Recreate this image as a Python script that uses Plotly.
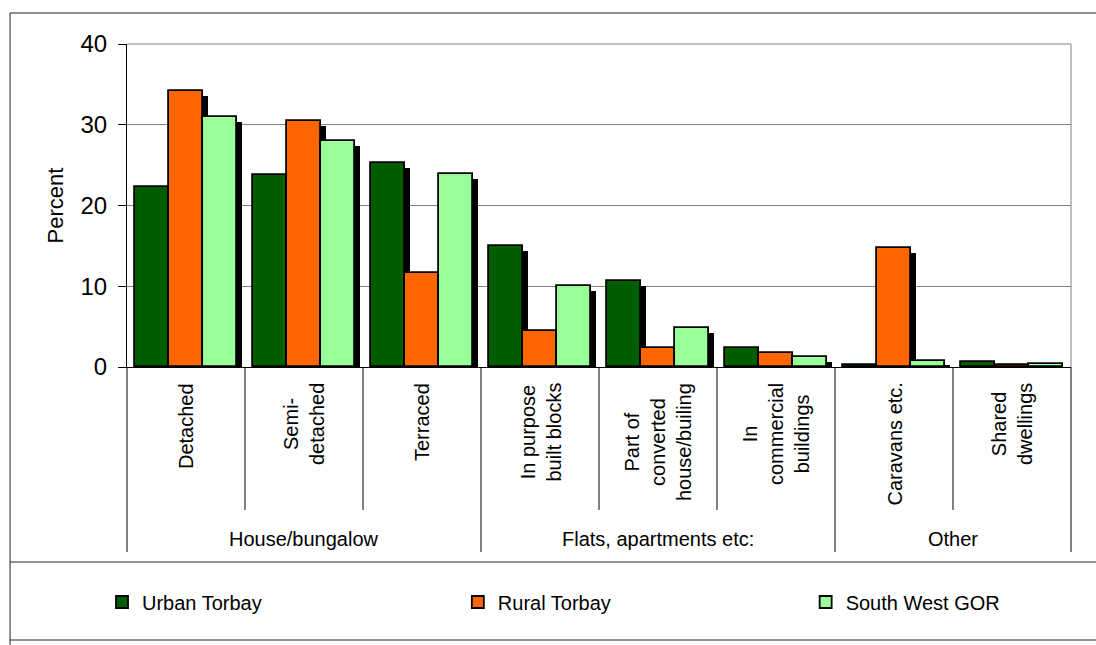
import plotly.graph_objects as go

# ---- data ----
categories = ["Detached", "Semi-<br>detached", "Terraced",
              "In purpose<br>built blocks",
              "Part of<br>converted<br>house/builing",
              "In<br>commercial<br>buildings",
              "Caravans etc.", "Shared<br>dwellings"]
groups = ["House/bungalow", "Flats, apartments etc:", "Other"]
group_spans = [(0, 2), (3, 5), (6, 7)]
series_names = ["Urban Torbay", "Rural Torbay", "South West GOR"]
urban = [22.3, 23.8, 25.3, 15.0, 10.6, 2.4, 0.2, 0.6]
rural = [34.2, 30.5, 11.7, 4.5, 2.4, 1.7, 14.7, 0.3]
swgor = [30.9, 28.0, 23.9, 10.0, 4.8, 1.3, 0.8, 0.4]
y_ticks = [0, 10, 20, 30, 40]

colors = ["#005E00", "#FF6600", "#99FF99"]
FONT = "Liberation Sans, Arial, sans-serif"

# ---- geometry (pixels) ----
W, H = 1096, 645
L, R, T, B = 127, 1071.5, 44, 367

def px2x(px):
    return (px - L) / (R - L)

def py2y(py):
    return (B - py) / (B - T)

x = list(range(len(categories)))
bar_w = 0.288
offsets = [-0.43, -0.142, 0.146]
shadow_dx = 5 / ((R - L) / len(categories))
shadow_dy = 5 / ((B - T) / 40)

fig = go.Figure()
series = [urban, rural, swgor]
# shadows first
for vals, off in zip(series, offsets):
    fig.add_trace(go.Bar(
        x=x, y=[max(v - shadow_dy, 0) for v in vals], base=0,
        offset=off + shadow_dx, width=bar_w,
        marker=dict(color="black", line=dict(width=0)),
        showlegend=False, hoverinfo="skip"))
legend_ids = ["legend", "legend2", "legend3"]
for vals, off, name, col, lg in zip(series, offsets, series_names, colors, legend_ids):
    fig.add_trace(go.Bar(
        x=x, y=vals, name=name, offset=off, width=bar_w, legend=lg,
        marker=dict(color=col, line=dict(color="black", width=1.8))))

shapes = []
# category dividers
for i in range(len(categories) - 1):
    b = i + 0.5
    is_group = any(b == e + 0.5 for (_, e) in group_spans[:-1])
    shapes.append(dict(type="line", xref="x", yref="paper", x0=b, x1=b,
                       y0=0, y1=py2y(552 if is_group else 510),
                       line=dict(color="black", width=1)))
for xp in (0, 1):
    shapes.append(dict(type="line", xref="paper", yref="paper", x0=xp, x1=xp,
                       y0=0, y1=py2y(552), line=dict(color="black", width=1)))
# plot area right/top border
shapes.append(dict(type="line", xref="paper", yref="paper", x0=1, x1=1, y0=0, y1=1,
                   line=dict(color="#808080", width=1)))
shapes.append(dict(type="line", xref="paper", yref="paper", x0=0, x1=1, y0=1, y1=1,
                   line=dict(color="#808080", width=1)))
# chart frame
frame_col = "#222222"
shapes.append(dict(type="line", xref="paper", yref="paper", x0=px2x(10), x1=px2x(1100),
                   y0=py2y(13), y1=py2y(13), line=dict(color=frame_col, width=1)))
shapes.append(dict(type="line", xref="paper", yref="paper", x0=px2x(10), x1=px2x(10),
                   y0=py2y(13), y1=py2y(650), line=dict(color=frame_col, width=1)))
for yy in (562, 640):
    shapes.append(dict(type="line", xref="paper", yref="paper", x0=px2x(10), x1=px2x(1100),
                       y0=py2y(yy), y1=py2y(yy), line=dict(color=frame_col, width=1)))

annotations = []
# category labels (rotated, lines centred)
for xi, c in zip(x, categories):
    annotations.append(dict(text=c, xref="x", yref="paper", x=xi, y=py2y(381),
                            textangle=-90, align="center", showarrow=False,
                            xanchor="center", yanchor="top",
                            font=dict(family=FONT, size=20, color="black")))
for g, (s, e) in zip(groups, group_spans):
    annotations.append(dict(text=g, xref="x", yref="paper", x=(s + e) / 2, y=py2y(539),
                            showarrow=False, xanchor="center", yanchor="middle",
                            font=dict(family=FONT, size=20, color="black")))

def legend_at(px):
    return dict(orientation="h", x=px2x(px), xanchor="left", y=py2y(602), yanchor="middle",
                font=dict(family=FONT, size=20, color="black"), bgcolor="rgba(0,0,0,0)")

fig.update_layout(
    width=W, height=H,
    margin=dict(l=L, r=W - R, t=T, b=H - B, pad=0),
    paper_bgcolor="white", plot_bgcolor="white",
    barmode="overlay", bargap=0,
    font=dict(family=FONT, color="black"),
    shapes=shapes, annotations=annotations,
    legend=legend_at(102), legend2=legend_at(458), legend3=legend_at(806),
    xaxis=dict(range=[-0.5, len(categories) - 0.5], tickmode="array", tickvals=x,
               showticklabels=False, ticks="", showgrid=False,
               showline=True, linecolor="black", linewidth=1, zeroline=False),
    yaxis=dict(range=[0, 40], tickmode="array", tickvals=y_ticks, ticks="outside",
               ticklen=8, tickcolor="black", showline=True, linecolor="black", linewidth=1,
               showgrid=True, gridcolor="#808080", gridwidth=1, zeroline=False,
               tickfont=dict(family=FONT, size=24, color="black"), ticklabelstandoff=6,
               title=dict(text="Percent", font=dict(family=FONT, size=22, color="black"),
                          standoff=10)),
)

fig.write_html("out.html", config={"displayModeBar": False},
               post_script="document.body.style.margin='0';")
